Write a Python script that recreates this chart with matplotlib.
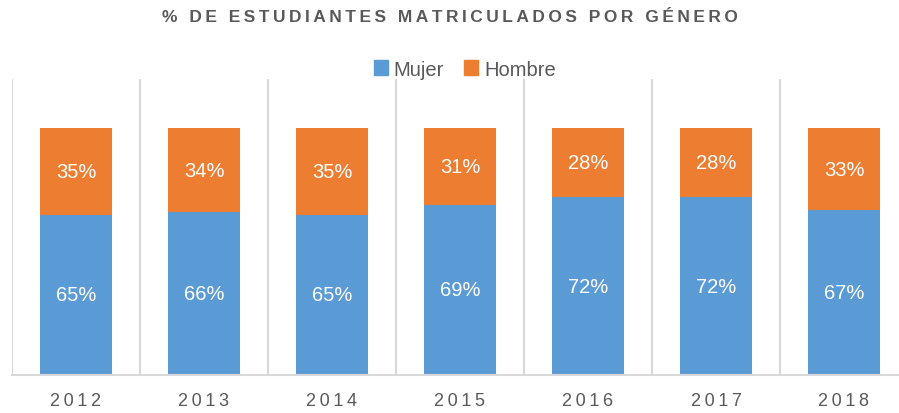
import numpy as np
import matplotlib
matplotlib.use('Agg')
import matplotlib.pyplot as plt
from matplotlib.patches import Patch

years = ['2012', '2013', '2014', '2015', '2016', '2017', '2018']
mujer = [65, 66, 65, 69, 72, 72, 67]
hombre = [35, 34, 35, 31, 28, 28, 33]

blue = '#5B9BD5'
orange = '#ED7D31'
gray = '#595959'
grid = '#D9D9D9'
sans = ['Liberation Sans', 'DejaVu Sans']


def spaced(s, sep='\u2009'):
    # spread the letters a bit, like the Excel chart does
    return sep.join(s)


fig = plt.figure(figsize=(8.99, 4.14), dpi=100)
ax = fig.add_axes([12 / 899, 38 / 414, 896 / 899, 296 / 414])

x = np.arange(len(years))
m = np.array(mujer) / 100
h = np.array(hombre) / 100
ax.bar(x, m, width=0.5625, color=blue, zorder=2)
ax.bar(x, h, width=0.5625, bottom=m, color=orange, zorder=2)

for i in range(len(years)):
    ax.text(x[i], m[i] / 2, f'{mujer[i]}%', ha='center', va='center',
            color='white', fontsize=14.5, family=sans, zorder=3)
    ax.text(x[i], m[i] + h[i] / 2, f'{hombre[i]}%', ha='center', va='center',
            color='white', fontsize=14.5, family=sans, zorder=3)

# category separators
for b in np.arange(-0.5, len(years) - 0.5, 1):
    ax.axvline(b, color=grid, lw=1.5, zorder=1)

ax.set_xlim(-0.5, len(years) - 0.5)
ax.set_ylim(0, 1.2)
for s in ['top', 'right', 'left']:
    ax.spines[s].set_visible(False)
ax.spines['bottom'].set_color(grid)
ax.spines['bottom'].set_linewidth(1.5)
ax.set_yticks([])
ax.set_xticks(x)
ax.set_xticklabels([spaced(y) for y in years], family=sans,
                   fontsize=13, color=gray)
ax.tick_params(axis='x', length=0, pad=12)

fig.text(0.5, 1 - 17 / 414, spaced('% DE ESTUDIANTES MATRICULADOS POR GÉNERO'),
         ha='center', va='center', fontsize=12.5, fontweight='bold', color=gray,
         family=sans)

handles = [Patch(color=blue, label='Mujer'), Patch(color=orange, label='Hombre')]
fig.legend(handles=handles, loc='center', bbox_to_anchor=(465 / 899, 1 - 70 / 414),
           ncol=2, frameon=False, prop={'family': sans, 'size': 14.5},
           labelcolor=gray, handlelength=0.7, handleheight=0.7,
           handletextpad=0.3, columnspacing=1.0)

fig.savefig('out.png', dpi=100)
